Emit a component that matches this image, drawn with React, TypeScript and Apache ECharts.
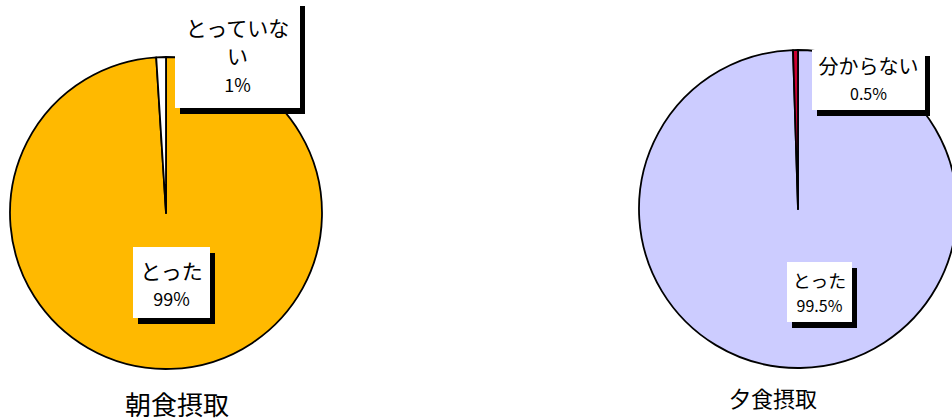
import React, { useEffect, useRef } from "react";
import * as echarts from "echarts";

const chartTitles = ["朝食摂取", "夕食摂取"];
const breakfastNames = ["とった", "とっていない"];
const breakfastValues = [99, 1];
const breakfastLabels = ["99%", "1%"];
const dinnerNames = ["とった", "分からない"];
const dinnerValues = [99.5, 0.5];
const dinnerLabels = ["99.5%", "0.5%"];

const breakfastColors = ["#FFB900", "#FFFFFF"];
const dinnerColors = ["#CCCCFF", "#CC0033"];

const FONT = "'Noto Sans CJK JP', 'Noto Sans', sans-serif";

// label box layout per series / data item (layout, not data)
// [centerX, centerY, contentWidth, padding, nameSize, nameLH, valueSize, valueLH, charsPerLine]
const labelLayoutCfg: any[][] = [
  [
    [171.5, 282.5, 71, [10, 3, 5, 3], 21, 26, 18, 30, 10],
    [237.5, 54, 119, [13, 3, 9, 3], 21, 28, 18, 30, 5],
  ],
  [
    [819.5, 292, 59, [5, 3, 5, 3], 18, 25, 16, 25, 10],
    [868.5, 80, 107, [1, 3, 3, 3], 20, 28, 16, 28, 10],
  ],
];

function wrapName(name: string, per: number): string[] {
  const chars = Array.from(name);
  const out: string[] = [];
  for (let i = 0; i < chars.length; i += per) out.push(chars.slice(i, i + per).join(""));
  return out;
}

function makeSeries(
  idx: number,
  names: string[],
  values: number[],
  labels: string[],
  colors: string[],
  center: [number, number],
  radius: number
) {
  return {
    type: "pie",
    center,
    radius,
    startAngle: 90,
    clockwise: true,
    avoidLabelOverlap: false,
    silent: true,
    emphasis: { disabled: true },
    itemStyle: { borderColor: "#000", borderWidth: 1.8 },
    labelLine: { show: false },
    label: {
      show: true,
      position: "outside",
      formatter: (p: any) => {
        const per = labelLayoutCfg[idx][p.dataIndex][8];
        const lines = wrapName(p.name, per).map((s) => `{n|${s}}`);
        return lines.join("\n") + `\n{v|${labels[p.dataIndex]}}`;
      },
      backgroundColor: "#fff",
      shadowColor: "#000",
      shadowOffsetX: 5,
      shadowOffsetY: 6,
      shadowBlur: 0,
      align: "center",
    },
    labelLayout: (p: any) => ({
      x: labelLayoutCfg[idx][p.dataIndex][0],
      y: labelLayoutCfg[idx][p.dataIndex][1],
      align: "center",
      verticalAlign: "middle",
    }),
    data: names.map((n, i) => {
      const c = labelLayoutCfg[idx][i];
      return {
        name: n,
        value: values[i],
        itemStyle: { color: colors[i] },
        label: {
          width: c[2],
          padding: c[3],
          rich: {
            n: {
              fontFamily: FONT,
              fontSize: c[4],
              lineHeight: c[5],
              color: "#000",
              align: "center",
            },
            v: {
              fontFamily: FONT,
              fontSize: c[6],
              lineHeight: c[7],
              color: "#000",
              align: "center",
            },
          },
        },
      };
    }),
  };
}

export default function App() {
  const ref = useRef<HTMLDivElement>(null);
  useEffect(() => {
    if (!ref.current) return;
    const chart = echarts.init(ref.current, undefined, { renderer: "svg" });
    chart.setOption({
      animation: false,
      backgroundColor: "#fff",
      graphic: [
        {
          type: "text",
          x: 177,
          y: 403,
          style: {
            text: chartTitles[0],
            fontFamily: FONT,
            fontSize: 26,
            fill: "#000",
            textAlign: "center",
            textVerticalAlign: "middle",
          },
        },
        {
          type: "text",
          x: 773,
          y: 397,
          style: {
            text: chartTitles[1],
            fontFamily: FONT,
            fontSize: 22,
            fill: "#000",
            textAlign: "center",
            textVerticalAlign: "middle",
          },
        },
      ],
      series: [
        makeSeries(
          0,
          breakfastNames,
          breakfastValues,
          breakfastLabels,
          breakfastColors,
          [166, 213],
          156
        ),
        makeSeries(
          1,
          dinnerNames,
          dinnerValues,
          dinnerLabels,
          dinnerColors,
          [798, 209],
          159
        ),
      ],
    });
    return () => chart.dispose();
  }, []);
  return (
    <div
      ref={ref}
      style={{ position: "fixed", left: 0, top: 0, width: 952, height: 420 }}
    />
  );
}
